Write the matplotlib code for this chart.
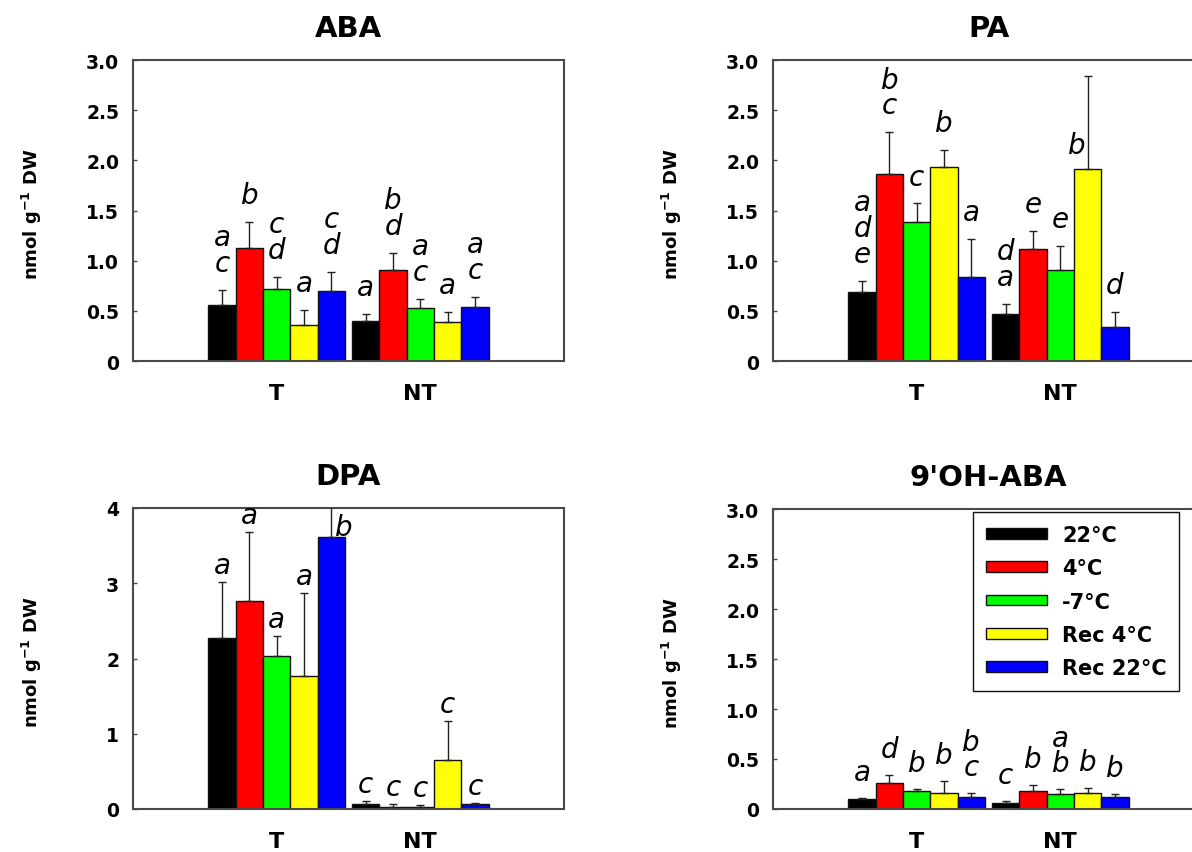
import matplotlib
matplotlib.use('Agg')
import matplotlib.pyplot as plt
import numpy as np
from matplotlib.patches import Patch
from matplotlib.ticker import FuncFormatter, MultipleLocator

plt.rcParams['font.family'] = ['DejaVu Sans']

groups = ['T', 'NT']
treatments = ['22°C', '4°C', '-7°C', 'Rec 4°C', 'Rec 22°C']
colors = ['#000000', '#ff0000', '#00ff00', '#ffff00', '#0000ff']

# ABA
aba_T = [0.56, 1.13, 0.72, 0.36, 0.70]
aba_T_err = [0.15, 0.26, 0.12, 0.15, 0.19]
aba_NT = [0.40, 0.91, 0.53, 0.39, 0.54]
aba_NT_err = [0.07, 0.17, 0.09, 0.10, 0.10]
aba_T_letters = ['a\nc', 'b', 'c\nd', 'a', 'c\nd']
aba_NT_letters = ['a', 'b\nd', 'a\nc', 'a', 'a\nc']

# PA
pa_T = [0.69, 1.86, 1.39, 1.93, 0.84]
pa_T_err = [0.11, 0.42, 0.18, 0.17, 0.38]
pa_NT = [0.47, 1.12, 0.91, 1.91, 0.34]
pa_NT_err = [0.10, 0.18, 0.24, 0.93, 0.15]
pa_T_letters = ['a\nd\ne', 'b\nc', 'c', 'b', 'a']
pa_NT_letters = ['d\na', 'e', 'e', 'b', 'd']

# DPA
dpa_T = [2.27, 2.76, 2.03, 1.77, 3.61]
dpa_T_err = [0.75, 0.92, 0.27, 1.10, 0.70]
dpa_NT = [0.06, 0.03, 0.03, 0.65, 0.06]
dpa_NT_err = [0.05, 0.03, 0.02, 0.52, 0.02]
dpa_T_letters = ['a', 'a', 'a', 'a', 'b']
dpa_NT_letters = ['c', 'c', 'c', 'c', 'c']

# 9'OH-ABA
oh_T = [0.10, 0.26, 0.18, 0.16, 0.12]
oh_T_err = [0.01, 0.08, 0.02, 0.12, 0.04]
oh_NT = [0.06, 0.18, 0.15, 0.16, 0.12]
oh_NT_err = [0.02, 0.06, 0.05, 0.05, 0.03]
oh_T_letters = ['a', 'd', 'b', 'b', 'b\nc']
oh_NT_letters = ['c', 'b', 'a\nb', 'b', 'b']

panels = [
    dict(title='ABA', T=aba_T, Te=aba_T_err, NT=aba_NT, NTe=aba_NT_err,
         TL=aba_T_letters, NTL=aba_NT_letters, ymax=3.0, step=0.5,
         rect=[133, 61, 431, 301], base=14, special={}),
    dict(title='PA', T=pa_T, Te=pa_T_err, NT=pa_NT, NTe=pa_NT_err,
         TL=pa_T_letters, NTL=pa_NT_letters, ymax=3.0, step=0.5,
         rect=[773, 61, 431, 301], base=14, special={(1, 3): (-8, 12)}),
    dict(title='DPA', T=dpa_T, Te=dpa_T_err, NT=dpa_NT, NTe=dpa_NT_err,
         TL=dpa_T_letters, NTL=dpa_NT_letters, ymax=4.0, step=1.0,
         rect=[133, 509, 431, 301], base=7, special={(0, 4): (9, 2)}),
    dict(title="9'OH-ABA", T=oh_T, Te=oh_T_err, NT=oh_NT, NTe=oh_NT_err,
         TL=oh_T_letters, NTL=oh_NT_letters, ymax=3.0, step=0.5,
         rect=[773, 510, 431, 300], base=13, special={}),
]

W, H = 1192, 853
fig = plt.figure(figsize=(W / 100, H / 100), dpi=100)

bar_w = 0.19
group_x = np.array([1.0, 2.0])
spine_col = '#4a4a4a'
letter_size = 20
descent_pt = 0.236 * letter_size

def fmt_dec(v, pos):
    if abs(v) < 1e-9:
        return '0'
    return '%.1f' % v

def fmt_int(v, pos):
    return '%d' % round(v)

for p in panels:
    l, t, w, h = p['rect']
    ax = fig.add_axes([l / W, 1 - (t + h) / H, w / W, h / H])
    data = [(p['T'], p['Te'], p['TL']), (p['NT'], p['NTe'], p['NTL'])]
    for gi, (vals, errs, letters) in enumerate(data):
        xs = group_x[gi] + (np.arange(5) - 2) * bar_w
        ax.bar(xs, vals, width=bar_w, color=colors, edgecolor='#111111',
               linewidth=1.0, zorder=2)
        ax.errorbar(xs, vals, yerr=[np.zeros(5), errs], fmt='none',
                    ecolor='#222222', elinewidth=1.0, capsize=3, capthick=1.0,
                    zorder=3)
        for bi in range(5):
            if (gi, bi) in p['special']:
                dx, base = p['special'][(gi, bi)]
                top = vals[bi]
            else:
                dx, base = 0, p['base']
                top = vals[bi] + errs[bi]
            ax.annotate(letters[bi], xy=(xs[bi], top),
                        xytext=(dx, base - descent_pt),
                        textcoords='offset points', ha='center',
                        va='bottom', fontsize=letter_size, fontstyle='italic',
                        linespacing=0.9, multialignment='center',
                        annotation_clip=False, zorder=4)
    ax.set_xlim(0, 3)
    ax.set_ylim(0, p['ymax'])
    ax.yaxis.set_major_locator(MultipleLocator(p['step']))
    ax.yaxis.set_major_formatter(FuncFormatter(fmt_int if p['step'] >= 1 else fmt_dec))
    ax.set_xticks(group_x)
    ax.set_xticklabels(groups, fontsize=16, fontweight='bold')
    ax.tick_params(axis='x', length=0, pad=16)
    ax.tick_params(axis='y', direction='in', length=3, width=1, pad=10,
                   labelsize=13.5, color=spine_col)
    for lab in ax.get_yticklabels():
        lab.set_fontweight('bold')
    for s in ax.spines.values():
        s.set_color(spine_col)
        s.set_linewidth(1.5)
    ax.set_title(p['title'], fontsize=21, fontweight='bold', pad=17)
    ax.set_ylabel('nmol g$^{\\mathbf{-1}}$ DW', fontsize=13, fontweight='bold')
    ax.yaxis.set_label_coords(-0.207, 0.49)
    if p['title'] == "9'OH-ABA":
        handles = [Patch(facecolor=c, edgecolor='#111111', linewidth=1.0)
                   for c in colors]
        leg = ax.legend(handles, treatments, loc='upper left',
                        bbox_to_anchor=(0.464, 0.99),
                        prop={'weight': 'bold', 'size': 15},
                        handlelength=2.93, handleheight=0.41,
                        handletextpad=0.72, labelspacing=0.64,
                        borderpad=0.62, borderaxespad=0.0,
                        fancybox=False, framealpha=1,
                        edgecolor='#111111')
        leg.get_frame().set_linewidth(1.0)

fig.savefig('out.png', dpi=100)
